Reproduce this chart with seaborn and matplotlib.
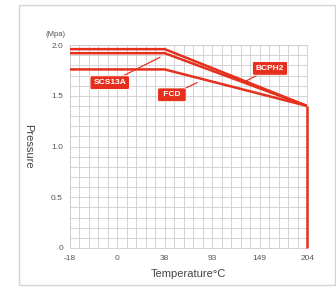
import matplotlib
matplotlib.use("Agg")
import matplotlib.pyplot as plt
import matplotlib.patches as patches
import numpy as np
import pandas as pd
import seaborn as sns

# tick categories (equally spaced on the chart)
temp_ticks = ["-18", "0", "38", "93", "149", "204"]
pressure_ticks = [0, 0.5, 1.0, 1.5, 2.0]

# break points of each curve (temperature category) and pressure values
curve_temps = ["-18", "38", "204"]
bcph2 = [1.96, 1.96, 1.40]
scs13a = [1.92, 1.92, 1.40]
fcd = [1.76, 1.76, 1.40]

red = "#e5301d"

sns.set_theme(style="white")
plt.rcParams['font.family'] = ['Liberation Sans', 'DejaVu Sans']

rows = []
for name, vals in [("BCPH2", bcph2), ("SCS13A", scs13a), ("FCD", fcd)]:
    for t, v in zip(curve_temps, vals):
        rows.append({"series": name, "pos": temp_ticks.index(t), "pressure": v})
df = pd.DataFrame(rows)

fig = plt.figure(figsize=(3.36, 2.89), dpi=100)
ax = fig.add_axes([0.208, 0.142, 0.706, 0.702])

# outer frame
fig.patches.append(patches.Rectangle((0.058, 0.015), 0.94, 0.968, transform=fig.transFigure,
                                     fill=False, edgecolor="#d4d4d4", linewidth=1.0))

sns.lineplot(data=df, x="pos", y="pressure", hue="series", palette=[red] * 3,
             linewidth=1.8, legend=False, ax=ax, estimator=None, sort=False, zorder=3)

# vertical drop at the last temperature
end = temp_ticks.index(curve_temps[-1])
ax.plot([end, end], [0, min(bcph2[-1], scs13a[-1], fcd[-1])], color=red, linewidth=1.8,
        clip_on=False, zorder=3, solid_capstyle="butt")

ax.set_xlim(0, len(temp_ticks) - 1)
ax.set_ylim(0, 2.0)
ax.set_xticks(range(len(temp_ticks)))
ax.set_xticklabels(temp_ticks)
ax.set_yticks(pressure_ticks)
ax.set_yticklabels(["0", "0.5", "1.0", "1.5", "2.0"])
ax.set_xticks(np.arange(0, len(temp_ticks) - 1 + 0.01, 0.2), minor=True)
ax.set_yticks(np.arange(0, 2.01, 0.1), minor=True)
ax.grid(which="both", color="#cbcbd1", linewidth=0.6)
ax.set_axisbelow(True)
ax.tick_params(axis="both", which="both", length=0, labelsize=6, colors="#555555", pad=5)
for s in ax.spines.values():
    s.set_color("#cbcbd1")
    s.set_linewidth(0.6)

ax.set_xlabel("Temperature°C", fontsize=8, color="#444444", labelpad=5)
ax.set_ylabel("Pressure", fontsize=8, color="#444444", rotation=-90, labelpad=20)
ax.text(-0.1, 2.1, "(Mpa)", fontsize=5.5, color="#555555", ha="right", va="center")

box = dict(boxstyle="round,pad=0.4,rounding_size=0.2", fc=red, ec="white", lw=0.6)
arrow = dict(arrowstyle="-", color=red, lw=0.9, shrinkA=0, shrinkB=0)
ax.annotate("SCS13A", xy=(1.90, 1.88), xytext=(0.84, 1.63), fontsize=6, color="white",
            weight="bold", ha="center", va="center", bbox=box, arrowprops=arrow)
ax.annotate(" FCD ", xy=(2.68, 1.63), xytext=(2.15, 1.51), fontsize=6, color="white",
            weight="bold", ha="center", va="center", bbox=box, arrowprops=arrow)
ax.annotate("BCPH2", xy=(3.69, 1.64), xytext=(4.22, 1.77), fontsize=6, color="white",
            weight="bold", ha="center", va="center", bbox=box, arrowprops=arrow)

fig.savefig("out.png", dpi=100)
